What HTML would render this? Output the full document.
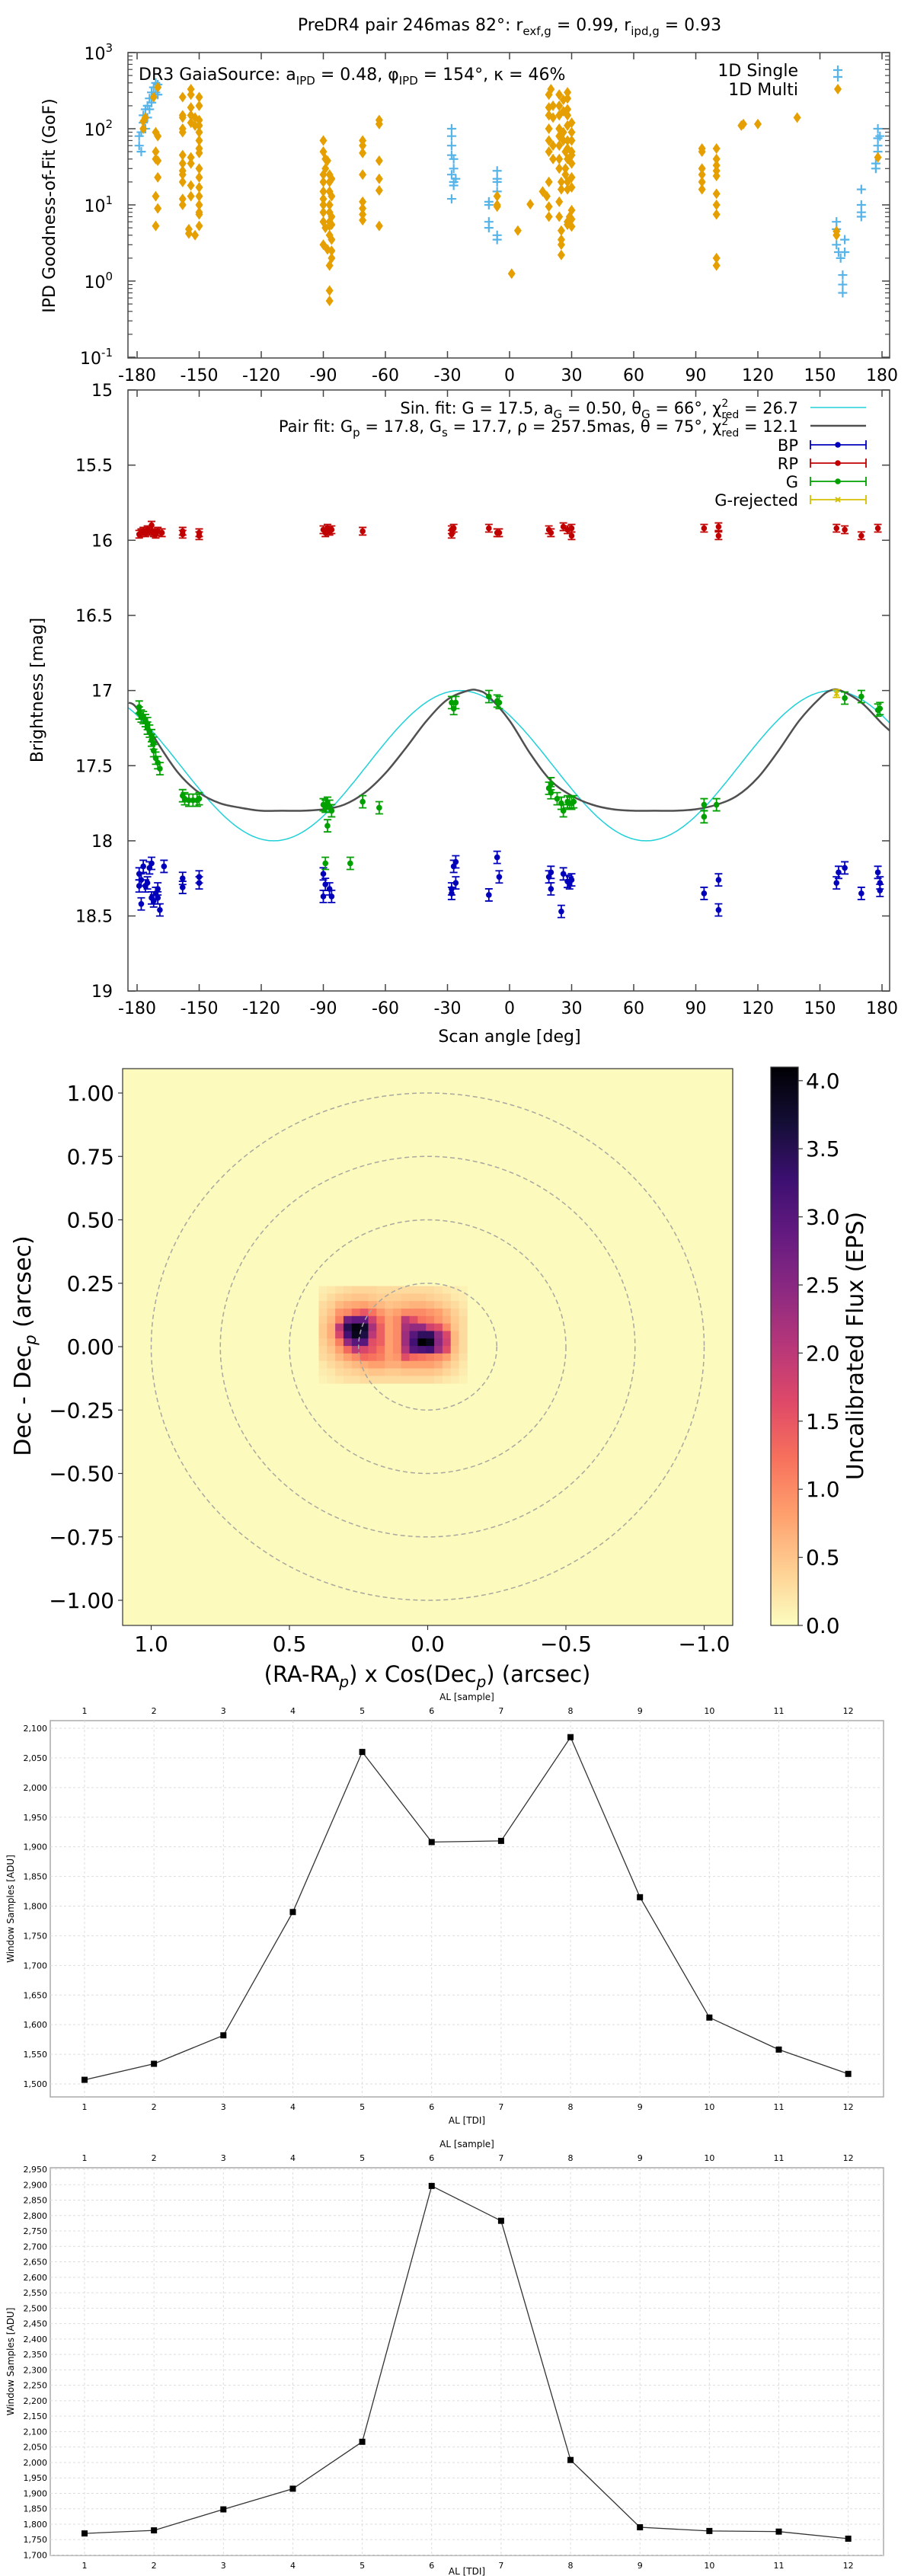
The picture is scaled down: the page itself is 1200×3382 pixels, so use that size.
<!DOCTYPE html>
<html><head><meta charset="utf-8">
<style>
html,body{margin:0;padding:0;background:#fff;}
svg{display:block;font-family:"DejaVu Sans","Liberation Sans",sans-serif;}
</style></head>
<body>
<svg id="fig" xmlns="http://www.w3.org/2000/svg" width="1200" height="3382" viewBox="0 0 1200 3382">
<defs>
<clipPath id="clip1"><rect x="168" y="69" width="1000" height="401"/></clipPath>
<clipPath id="clip2"><rect x="168" y="512" width="1000" height="789"/></clipPath>
<clipPath id="clip3"><rect x="161" y="1403" width="801" height="731"/></clipPath>
<linearGradient id="cbar" x1="0" y1="1" x2="0" y2="0"></linearGradient>
</defs>
<rect x="0" y="0" width="1200" height="3382" fill="#fff"/>
</svg>
<script>
// ---------- DATA: panel 1 (IPD GoF) ----------
const singleAngles = [-179,-179,-178,-178,-177,-177,-176,-176,-175,-175,-174,-174,-173,-173,-172,-172,-171,-171,-170,-170,
 -28,-28,-28,-28,-28,-27,-27,-27,-27,-28,-26,
 -10,-10,-10,-10,-6,-6,-6,-6,-6,-6,
 158,158,158,159,160,161,161,161,162,162,
 170,170,170,170,178,178,178,178,177,177,179];
const singleGof = [80,60,50,90,120,150,180,100,200,140,250,180,300,220,350,260,400,300,380,280,
 100,80,60,45,25,40,30,20,18,12,22,
 11,10,6,5,28,22,20,15,4,3.5,
 6,4.8,3,2.4,2,1.2,0.9,0.7,3.5,2.4,
 16,10,8,7,100,75,60,50,30,35,80];
const multiAngles = [-177,-177,-176,-172,-170,-171,-170,-171,-171,-170,-170,-171,-170,-171,
 -158,-158,-158,-158,-158,-158,-158,-158,-158,-158,-158,-158,-155,-155,-154,-154,-154,-154,-154,-154,-154,-154,-154,-152,-152,
 -150,-150,-150,-150,-150,-150,-150,-150,-150,-150,-150,-150,-150,-150,-150,-150,-152,
 -90,-90,-89,-89,-90,-90,-90,-90,-90,-90,-90,-89,-90,-88,-88,-87,-87,-87,-87,-87,-87,-87,-87,-86,-86,-86,-87,-87,-87,-86,-86,-86,-86,
 -71,-71,-71,-71,-71,-71,-71,-71,-63,-63,-63,-63,-63,-63,
 -6,-6,-6,1,4,10,
 16,18,19,19,19,19,19,19,19,19,19,20,21,21,21,21,24,24,24,24,24,24,24,24,25,25,24,24,25,25,25,25,26,26,26,26,27,27,27,28,28,28,28,28,28,28,28,28,28,28,28,29,30,30,30,30,30,30,30,30,30,30,30,
 93,93,93,93,93,93,100,100,100,100,100,100,100,100,100,100,112,113,120,139,158,158,178];
const multiGof = [100,125,140,260,350,90,80,50,40,38,23,13,9,5.3,
 260,150,140,100,90,45,35,28,25,20,12,10,4.8,4.2,330,280,190,150,120,42,35,18,13,140,110,
 260,200,130,110,90,70,55,48,30,23,17,13,10,8,7.5,5.3,4,
 70,50,40,30,25,20,15,12,10,8,6,5,3,2.6,38,25,20,15,10,8,6,5.3,4,3.5,2.5,2,1.6,0.75,0.55,22,13,7,5.5,
 70,60,48,25,11,9,7.5,6.3,130,115,38,22,15.5,5.3,
 13,10,9.5,1.25,4.6,10.2,
 15,13,9.5,7,20,50,70,100,150,190,280,330,200,140,60,40,280,200,150,100,80,60,40,30,20,16,11,7,4.6,3.5,3,2.2,240,170,90,70,50,30,25,300,250,180,150,110,70,55,40,20,16,6,5.5,7,120,90,70,50,45,35,23,17,8.5,6.5,5.2,
 55,50,30,25,20,16,55,40,33,28,24,14,10,7.5,2,1.6,110,115,115,140,4.5,4,42];
const gofTickExp = [-1,0,1,2,3];
const angleTicks = [-180,-150,-120,-90,-60,-30,0,30,60,90,120,150,180];

// ---------- DATA: panel 2 (brightness) ----------
const gAngles = [-179,-179,-178,-177,-176,-175,-175,-174,-173,-173,-172,-172,-171,-170,-169,-158,-157,-155,-153,-151,-150,-90,-89,-88,-87,-86,-88,-89,-71,-63,-77,-28,-27,-26,-10,-6,-5,19,20,20,23,25,26,28,29,30,31,94,94,100,162,170,178,179];
const gMags = [17.11,17.15,17.17,17.18,17.2,17.22,17.25,17.27,17.3,17.33,17.35,17.4,17.45,17.48,17.52,17.7,17.72,17.73,17.73,17.73,17.72,17.76,17.77,17.75,17.77,17.8,17.9,18.15,17.74,17.78,18.15,17.08,17.12,17.08,17.04,17.07,17.08,17.65,17.68,17.62,17.72,17.75,17.8,17.74,17.75,17.75,17.74,17.76,17.84,17.76,17.05,17.04,17.13,17.12];
const gRejAngles = [158];
const gRejMags = [17.02];
const rpAngles = [-179,-178,-177,-176,-175,-174,-173,-172,-171,-170,-168,-158,-158,-150,-150,-90,-89,-88,-87,-86,-71,-28,-28,-27,-10,-6,-5,19,20,26,28,30,30,94,101,101,158,162,170,178];
const rpMags = [15.96,15.95,15.94,15.95,15.93,15.94,15.9,15.95,15.96,15.94,15.95,15.94,15.96,15.95,15.97,15.93,15.95,15.92,15.94,15.93,15.94,15.93,15.96,15.92,15.92,15.95,15.95,15.93,15.95,15.91,15.93,15.92,15.97,15.92,15.91,15.97,15.92,15.93,15.97,15.92];
const bpAngles = [-179,-179,-178,-178,-177,-176,-175,-174,-173,-173,-172,-171,-170,-170,-169,-167,-158,-158,-150,-150,-90,-90,-89,-87,-86,-28,-28,-27,-26,-26,-10,-6,-5,19,20,20,25,26,28,29,30,94,101,101,158,159,162,170,178,179,179];
const bpMags = [18.22,18.3,18.26,18.42,18.17,18.3,18.28,18.18,18.15,18.38,18.4,18.35,18.32,18.38,18.46,18.17,18.25,18.31,18.24,18.28,18.22,18.37,18.29,18.32,18.37,18.35,18.32,18.17,18.14,18.28,18.36,18.11,18.24,18.24,18.21,18.32,18.47,18.22,18.27,18.28,18.26,18.35,18.26,18.46,18.28,18.21,18.18,18.35,18.21,18.28,18.33];
const pairFitAngles = [-184,-180,-170,-160,-150,-140,-130,-120,-110,-100,-90,-80,-70,-60,-50,-40,-30,-20,-15,-10,0,10,20,30,40,50,60,70,80,90,100,110,120,130,140,150,155,160,170,180,184];
const pairFitMags = [17.08,17.12,17.35,17.55,17.68,17.75,17.78,17.8,17.8,17.8,17.79,17.76,17.68,17.55,17.38,17.2,17.06,17.0,17.0,17.04,17.2,17.42,17.6,17.7,17.76,17.79,17.8,17.8,17.8,17.79,17.76,17.7,17.58,17.4,17.2,17.05,17.0,17.0,17.08,17.22,17.27];
const sinFitParams = [17.5, 0.50, 66]; // mean, amplitude, theta_G (from legend)
const magTicks = [15,15.5,16,16.5,17,17.5,18,18.5,19];

// ---------- DATA: panel 3 (heatmap) ----------
const heatOrigin = [0.394, 0.2387];
const heatCell = [0.02983, 0.0295];
const heatBackground = 0.03;
const heatValues = [
 [0.15,0.2,0.25,0.3,0.35,0.35,0.35,0.3,0.3,0.3,0.3,0.3,0.3,0.3,0.25,0.2,0.15,0.1],
 [0.2,0.3,0.4,0.45,0.5,0.5,0.45,0.4,0.4,0.4,0.45,0.45,0.45,0.4,0.35,0.3,0.2,0.15],
 [0.3,0.4,0.6,0.7,0.75,0.8,0.7,0.6,0.5,0.55,0.6,0.65,0.65,0.6,0.5,0.4,0.3,0.2],
 [0.35,0.5,0.9,1.0,1.3,1.5,1.2,0.9,0.7,0.8,1.0,1.0,1.0,0.9,0.8,0.6,0.4,0.25],
 [0.4,0.6,1.1,2.7,2.9,2.9,1.8,1.2,0.8,1.0,2.0,1.6,1.2,1.1,0.9,0.7,0.45,0.3],
 [0.45,0.7,2.0,3.5,4.0,3.8,2.2,1.4,0.8,1.0,2.2,2.4,2.4,1.8,1.6,1.0,0.5,0.3],
 [0.45,0.7,1.7,3.2,3.9,3.6,2.0,1.4,0.8,1.0,2.3,3.0,3.4,3.4,2.4,1.7,0.6,0.3],
 [0.4,0.6,1.1,2.4,3.0,3.0,1.6,1.4,0.8,1.0,2.3,3.2,4.1,3.9,2.5,1.8,0.6,0.3],
 [0.35,0.5,0.8,1.3,2.0,1.7,1.5,1.2,0.8,1.0,2.1,3.0,3.1,3.2,2.3,1.6,0.55,0.3],
 [0.3,0.4,0.6,0.8,1.0,1.3,1.2,1.1,0.8,0.9,1.6,1.3,1.2,1.1,1.0,0.8,0.45,0.25],
 [0.2,0.3,0.4,0.5,0.6,0.7,0.8,0.8,0.7,0.7,0.8,0.8,0.8,0.8,0.7,0.5,0.35,0.2],
 [0.15,0.2,0.3,0.35,0.4,0.45,0.5,0.5,0.45,0.45,0.5,0.5,0.5,0.5,0.45,0.35,0.25,0.15],
 [0.1,0.15,0.2,0.25,0.25,0.3,0.3,0.3,0.3,0.3,0.3,0.3,0.3,0.3,0.25,0.2,0.15,0.1]];
const ringRadii = [0.25,0.5,0.75,1.0];
const heatXTicks = [1.0,0.5,0.0,-0.5,-1.0];
const heatYTicks = [1.0,0.75,0.5,0.25,0.0,-0.25,-0.5,-0.75,-1.0];
const cbarTicks = [0,0.5,1,1.5,2,2.5,3,3.5,4];

// ---------- DATA: panels 4,5 (window samples) ----------
const samples = [1,2,3,4,5,6,7,8,9,10,11,12];
const window1 = [1507,1534,1582,1790,2060,1908,1910,2085,1815,1612,1558,1517];
const window2 = [1770,1780,1848,1915,2067,2896,2783,2008,1790,1778,1776,1753];
const win1Ticks = [1500,1550,1600,1650,1700,1750,1800,1850,1900,1950,2000,2050,2100];
const win2Ticks = [1700,1750,1800,1850,1900,1950,2000,2050,2100,2150,2200,2250,2300,2350,2400,2450,2500,2550,2600,2650,2700,2750,2800,2850,2900,2950];

// ---------- helpers ----------
const NS = "http://www.w3.org/2000/svg";
const svg = document.getElementById('fig');
function mk(tag, attrs, parent){
  const e = document.createElementNS(NS, tag);
  for (const k in attrs) e.setAttribute(k, attrs[k]);
  (parent||svg).appendChild(e);
  return e;
}
function txt(s, x, y, size, anchor, parent, extra){
  const t = mk('text', Object.assign({x:x, y:y, 'font-size':size, 'text-anchor':anchor||'middle', fill:'#000'}, extra||{}), parent);
  t.textContent = s;
  return t;
}

// ===================== PANEL 1 =====================
const x1 = a => 180 + (a + 180) * 2.7167;
const y1 = v => 69 + (3 - Math.log10(v)) * 100;
const p1 = mk('g', {});


let t1 = mk('text', {x:669, y:40, 'font-size':22, 'text-anchor':'middle'}, p1);


t1.innerHTML = 'PreDR4 pair 246mas 82°: r<tspan font-size="15" dy="6">exf,g</tspan><tspan dy="-6"> = 0.99, r</tspan><tspan font-size="15" dy="6">ipd,g</tspan><tspan dy="-6"> = 0.93</tspan>';
for (let e of gofTickExp){
  const y = y1(Math.pow(10,e));
  mk('line',{x1:168,y1:y,x2:178,y2:y,stroke:'#444','stroke-width':1.5},p1);
  mk('line',{x1:1158,y1:y,x2:1168,y2:y,stroke:'#444','stroke-width':1.5},p1);
  let t = mk('text',{x:148,y:y+9,'font-size':22,'text-anchor':'end'},p1);
  
  
  t.innerHTML = '10<tspan font-size="15" dy="-10">'+e+'</tspan>';
  if (e < 3){
    for (let m=2;m<=9;m++){
      const ym = y1(m*Math.pow(10,e));
      mk('line',{x1:168,y1:ym,x2:174,y2:ym,stroke:'#444','stroke-width':1.2},p1);
      mk('line',{x1:1162,y1:ym,x2:1168,y2:ym,stroke:'#444','stroke-width':1.2},p1);
    }
  }
}
for (let a of angleTicks){
  const x = x1(a);
  mk('line',{x1:x,y1:470,x2:x,y2:461,stroke:'#444','stroke-width':1.5},p1);
  mk('line',{x1:x,y1:69,x2:x,y2:78,stroke:'#444','stroke-width':1.5},p1);
  const t = txt(String(a), x, 500, 22, 'middle', p1);
  
  
}
const yl1 = txt('IPD Goodness-of-Fit (GoF)', 0, 0, 22, 'middle', p1, {transform:'translate(72,270) rotate(-90)'});


const gS = mk('g',{'clip-path':'url(#clip1)'},p1);


const gM = mk('g',{'clip-path':'url(#clip1)'},p1);


function plus(x,y,g){ mk('path',{d:`M${x-6} ${y}h12M${x} ${y-6}v12`,stroke:'#56b4e9','stroke-width':2.2,fill:'none'},g); }
function diamond(x,y,g){ mk('path',{d:`M${x} ${y-7}L${x+5} ${y}L${x} ${y+7}L${x-5} ${y}Z`,fill:'#e69f00'},g); }
for (let i=0;i<multiAngles.length;i++){
  diamond(x1(multiAngles[i]), y1(multiGof[i]), gM);
}
for (let i=0;i<singleAngles.length;i++){
  plus(x1(singleAngles[i]), y1(singleGof[i]), gS);
}
mk('rect',{x:168,y:69,width:1000,height:401,fill:'none',stroke:'#444','stroke-width':1.5},p1);
let dr3 = mk('text',{x:182,y:105,'font-size':22},p1);


dr3.innerHTML = 'DR3 GaiaSource: a<tspan font-size="15" dy="6">IPD</tspan><tspan dy="-6"> = 0.48, φ</tspan><tspan font-size="15" dy="6">IPD</tspan><tspan dy="-6"> = 154°, κ = 46%</tspan>';
const lg1 = mk('g',{},p1);


txt('1D Single',1048,100,22,'end',lg1);
txt('1D Multi',1048,125,22,'end',lg1);
plus(1100,92,lg1); plus(1100,101,lg1);
diamond(1100,117,lg1);

// ===================== PANEL 2 =====================
const x2 = a => 180 + (a + 180) * 2.7167;
const y2 = m => 512 + (m - 15) * 197.3;
const p2 = mk('g',{});


for (let m of magTicks){
  const y = y2(m);
  mk('line',{x1:168,y1:y,x2:178,y2:y,stroke:'#444','stroke-width':1.5},p2);
  mk('line',{x1:1158,y1:y,x2:1168,y2:y,stroke:'#444','stroke-width':1.5},p2);
  const t = txt(String(m),148,y+8,22,'end',p2);
  
  
}
for (let a of angleTicks){
  const x = x2(a);
  mk('line',{x1:x,y1:1301,x2:x,y2:1292,stroke:'#444','stroke-width':1.5},p2);
  mk('line',{x1:x,y1:512,x2:x,y2:521,stroke:'#444','stroke-width':1.5},p2);
  const t = txt(String(a),x,1331,22,'middle',p2);
  
  
}
const xl2 = txt('Scan angle [deg]',669,1368,22,'middle',p2);


const yl2 = txt('Brightness [mag]',0,0,22,'middle',p2,{transform:'translate(56,906) rotate(-90)'});


const c2 = mk('g',{'clip-path':'url(#clip2)'},p2);
let d = '';
for (let a=-186;a<=184;a+=1){
  const m = sinFitParams[0] + sinFitParams[1]*Math.cos(2*(a - sinFitParams[2])*Math.PI/180);
  d += (d?'L':'M') + x2(a).toFixed(1) + ' ' + y2(m).toFixed(1);
}
const sinLine = mk('path',{d:d,fill:'none',stroke:'#20d0d8','stroke-width':1.5},c2);


const pts = pairFitAngles.map((a,i)=>[x2(a), y2(pairFitMags[i])]);
let dp = `M${pts[0][0]} ${pts[0][1]}`;
for (let i=0;i<pts.length-1;i++){
  const p0 = pts[Math.max(0,i-1)], pa = pts[i], pb = pts[i+1], p3 = pts[Math.min(pts.length-1,i+2)];
  const c1x = pa[0]+(pb[0]-p0[0])/6, c1y = pa[1]+(pb[1]-p0[1])/6;
  const c2x = pb[0]-(p3[0]-pa[0])/6, c2y = pb[1]-(p3[1]-pa[1])/6;
  dp += `C${c1x.toFixed(1)} ${c1y.toFixed(1)} ${c2x.toFixed(1)} ${c2y.toFixed(1)} ${pb[0].toFixed(1)} ${pb[1].toFixed(1)}`;
}
const pairLine = mk('path',{d:dp,fill:'none',stroke:'#505050','stroke-width':2.5},c2);


function errPoint(x,y,err,col,g,cross){
  mk('path',{d:`M${x} ${y-err}V${y+err}M${x-5} ${y-err}h10M${x-5} ${y+err}h10`,stroke:col,'stroke-width':1.8,fill:'none'},g);
  if (cross) mk('path',{d:`M${x-3} ${y-3}l6 6M${x+3} ${y-3}l-6 6`,stroke:col,'stroke-width':2},g);
  else mk('circle',{cx:x,cy:y,r:3.8,fill:col},g);
}
const gRP = mk('g',{},c2);


for (let i=0;i<rpAngles.length;i++) errPoint(x2(rpAngles[i]), y2(rpMags[i]), 5, '#c00000', gRP);
const gBP = mk('g',{},c2);


for (let i=0;i<bpAngles.length;i++) errPoint(x2(bpAngles[i]), y2(bpMags[i]), 8, '#0000bb', gBP);
const gG = mk('g',{},c2);


for (let i=0;i<gAngles.length;i++) errPoint(x2(gAngles[i]), y2(gMags[i]), 8, '#00a000', gG);
const gR = mk('g',{},c2);


for (let i=0;i<gRejAngles.length;i++) errPoint(x2(gRejAngles[i]), y2(gRejMags[i]), 5, '#d4c000', gR, true);
mk('rect',{x:168,y:512,width:1000,height:789,fill:'none',stroke:'#444','stroke-width':1.5},p2);
const lg2 = mk('g',{},p2);


let l1 = mk('text',{x:1048,y:543,'font-size':21,'text-anchor':'end'},lg2);
l1.innerHTML = 'Sin. fit: G = 17.5, a<tspan font-size="15" dy="6">G</tspan><tspan dy="-6"> = 0.50, θ</tspan><tspan font-size="15" dy="6">G</tspan><tspan dy="-6"> = 66°, χ</tspan><tspan font-size="14" dy="-9">2</tspan><tspan font-size="14" dx="-9" dy="15">red</tspan><tspan dy="-6"> =  26.7</tspan>';
let l2 = mk('text',{x:1048,y:567,'font-size':21,'text-anchor':'end'},lg2);
l2.innerHTML = 'Pair fit: G<tspan font-size="15" dy="6">p</tspan><tspan dy="-6"> = 17.8, G</tspan><tspan font-size="15" dy="6">s</tspan><tspan dy="-6"> = 17.7, ρ = 257.5mas, θ = 75°, χ</tspan><tspan font-size="14" dy="-9">2</tspan><tspan font-size="14" dx="-9" dy="15">red</tspan><tspan dy="-6"> =  12.1</tspan>';
mk('line',{x1:1064,y1:535,x2:1137,y2:535,stroke:'#20d0d8','stroke-width':1.5},lg2);
mk('line',{x1:1064,y1:559,x2:1137,y2:559,stroke:'#505050','stroke-width':2.5},lg2);
const lgItems = [['BP','#0000bb',584,false],['RP','#c00000',608,false],['G','#00a000',632,false],['G-rejected','#d4c000',656,true]];
for (const it of lgItems){
  txt(it[0],1048,it[2]+8,21,'end',lg2);
  mk('path',{d:`M1064 ${it[2]}H1137M1064 ${it[2]-6}v12M1137 ${it[2]-6}v12`,stroke:it[1],'stroke-width':1.8,fill:'none'},lg2);
  if (it[3]) mk('path',{d:`M1097 ${it[2]-3}l6 6M1103 ${it[2]-3}l-6 6`,stroke:it[1],'stroke-width':2},lg2);
  else mk('circle',{cx:1100,cy:it[2],r:3.8,fill:it[1]},lg2);
}

// ===================== PANEL 3 (heatmap) =====================
const hx = ra => 561.5 - ra * 363;
const hy = de => 1768 - de * 333;
const magmaStops = ['#000004','#140e36','#3b0f70','#641a80','#8c2981','#b73779','#de4968','#f7705c','#fe9f6d','#fecf92','#fcfdbf'];
function hex2rgb(h){return [parseInt(h.substr(1,2),16),parseInt(h.substr(3,2),16),parseInt(h.substr(5,2),16)];}
function cmap(v){
  let t = 1 - Math.max(0,Math.min(1,v/4.1));
  const f = t*10, i = Math.min(9,Math.floor(f)), r = f - i;
  const a = hex2rgb(magmaStops[i]), b = hex2rgb(magmaStops[i+1]);
  return 'rgb('+a.map((c,k)=>Math.round(c+(b[k]-c)*r)).join(',')+')';
}
const p3 = mk('g',{});


const hm = mk('g',{'clip-path':'url(#clip3)'},p3);


mk('rect',{x:161,y:1403,width:801,height:731,fill:cmap(heatBackground)},hm);
for (let r=0;r<heatValues.length;r++){
  for (let c=0;c<heatValues[r].length;c++){
    const raL = heatOrigin[0] - c*heatCell[0];
    const deT = heatOrigin[1] - r*heatCell[1];
    const xL = hx(raL), yT = hy(deT);
    mk('rect',{x:xL.toFixed(2),y:yT.toFixed(2),width:(heatCell[0]*363+0.4).toFixed(2),height:(heatCell[1]*333+0.4).toFixed(2),fill:cmap(heatValues[r][c])},hm);
  }
}
for (const rr of ringRadii){
  const el = mk('ellipse',{cx:hx(0),cy:hy(0),rx:rr*363,ry:rr*333,fill:'none',stroke:'#a8a8a0','stroke-width':1.5,'stroke-dasharray':'6 4'},hm);
  
  
}
mk('rect',{x:161,y:1403,width:801,height:731,fill:'none',stroke:'#333','stroke-width':1.2},p3);
for (const v of heatXTicks){
  const x = hx(v);
  mk('line',{x1:x,y1:2134,x2:x,y2:2140,stroke:'#333','stroke-width':1.2},p3);
  const t = txt(v===0?'0.0':(v<0?'\u2212'+Math.abs(v).toFixed(1):v.toFixed(1)),x,2168,28,'middle',p3);
  
  
}
for (const v of heatYTicks){
  const y = hy(v);
  mk('line',{x1:155,y1:y,x2:161,y2:y,stroke:'#333','stroke-width':1.2},p3);
  const t = txt(v===0?'0.00':(v<0?'\u2212'+Math.abs(v).toFixed(2):v.toFixed(2)),150,y+10,28,'end',p3);
  
  
}
let hxl = mk('text',{x:561,y:2208,'font-size':29,'text-anchor':'middle'},p3);


hxl.innerHTML = '(RA-RA<tspan font-size="20" dy="7" font-style="italic">p</tspan><tspan dy="-7">) x Cos(Dec</tspan><tspan font-size="20" dy="7" font-style="italic">p</tspan><tspan dy="-7">) (arcsec)</tspan>';
let hyl = mk('text',{x:0,y:0,'font-size':30,'text-anchor':'middle',transform:'translate(40,1767) rotate(-90)'},p3);


hyl.innerHTML = 'Dec - Dec<tspan font-size="21" dy="7" font-style="italic">p</tspan><tspan dy="-7"> (arcsec)</tspan>';
const grad = document.getElementById('cbar');
for (let i=0;i<=20;i++){
  const v = 4.1*i/20;
  mk('stop',{offset:(i/20).toFixed(3),'stop-color':cmap(v)},grad);
}
const cb = mk('rect',{x:1012,y:1401,width:36,height:733,fill:'url(#cbar)',stroke:'#333','stroke-width':1.2},p3);


for (const v of cbarTicks){
  const y = 2134 - v*178.8;
  mk('line',{x1:1048,y1:y,x2:1054,y2:y,stroke:'#333','stroke-width':1.2},p3);
  const t = txt(v.toFixed(1),1058,y+10,28,'start',p3);
  
  
}
const cbl = txt('Uncalibrated Flux (EPS)',0,0,30,'middle',p3,{transform:'translate(1133,1767) rotate(-90)'});



// ===================== PANELS 4 & 5 =====================
function winChart(name, top, bottom, vTop, vBot, ticks, values, titleGap){
  const g = mk('g',{});
  
  
  const xs = s => 111 + (s - 1) * 91.15;
  const ys = v => vTop[0] + (vTop[1] - v) * (vBot[0] - vTop[0]) / (vTop[1] - vBot[1]);
  mk('rect',{x:66,y:top,width:1094,height:bottom-top,fill:'#fff',stroke:'#aaa','stroke-width':1.5},g);
  for (const s of samples){
    const x = xs(s);
    mk('line',{x1:x,y1:top,x2:x,y2:bottom,stroke:'#ddd','stroke-width':1,'stroke-dasharray':'3 3'},g);
    const tt = txt(String(s),x,top-9,11,'middle',g);
    
    
    const tb = txt(String(s),x,bottom+17,11,'middle',g);
    
    
  }
  for (const v of ticks){
    const y = ys(v);
    mk('line',{x1:66,y1:y,x2:1160,y2:y,stroke:'#ddd','stroke-width':1,'stroke-dasharray':'3 3'},g);
    const t = txt(v.toLocaleString('en-US'),62,y+4,11,'end',g);
    
    
  }
  const at = txt('AL [sample]',613,top-27,12,'middle',g);
  
  
  const ab = txt('AL [TDI]',613,bottom+titleGap,12,'middle',g);
  
  
  const yl = txt('Window Samples [ADU]',0,0,12,'middle',g,{transform:`translate(18,${(top+bottom)/2}) rotate(-90)`});
  
  
  let d = '';
  values.forEach((v,i)=>{ d += (i?'L':'M') + xs(samples[i]).toFixed(1) + ' ' + ys(v).toFixed(1); });
  const ln = mk('path',{d:d,fill:'none',stroke:'#333','stroke-width':1.3},g);
  
  
  values.forEach((v,i)=>{
    const r = mk('rect',{x:xs(samples[i])-4,y:ys(v)-4,width:8,height:8,fill:'#000'},g);
    
    
  });
}
winChart('window-samples-chart-1', 2259, 2753, [2269,2100], [2736,1500], win1Ticks, window1, 35);
winChart('window-samples-chart-2', 2846, 3355, [2848,2950], [3354.5,1700], win2Ticks, window2, 25);
</script>
</body></html>
